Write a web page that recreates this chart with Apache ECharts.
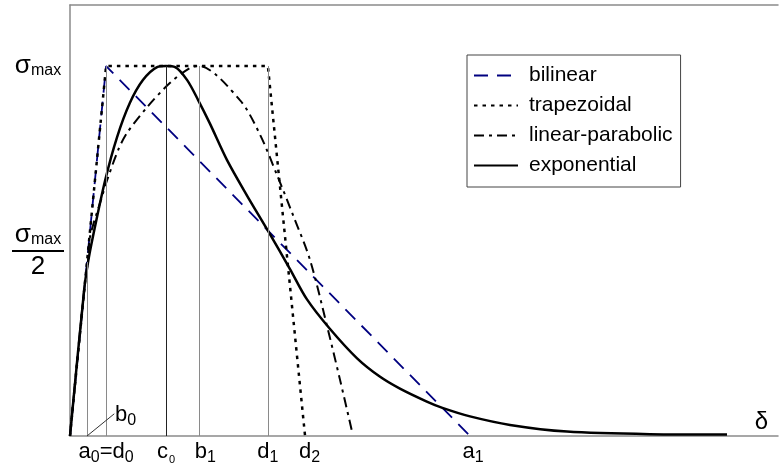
<!DOCTYPE html>
<html><head><meta charset="utf-8">
<script src="https://cdn.jsdelivr.net/npm/echarts@6/dist/echarts.min.js"></script>
<style>html,body{margin:0;padding:0;background:#fff}#c{width:779px;height:473px}</style>
</head><body><div id="c"></div>
<script>
// ---- data (δ in units where a0=d0≈1, σ in units of σmax) ----
const seriesNames = ['bilinear', 'trapezoidal', 'linear-parabolic', 'exponential'];
const bilinear = [[0, 0], [1.02, 1], [11.3, 0]];
const trapezoidal = [[0, 0], [1.02, 1], [5.59, 1], [6.64, 0]];
const linearParabolic = [
  [0, 0], [0.40, 0.395], [0.51, 0.476], [0.565, 0.538], [0.90, 0.646], [1.05, 0.692],
  [1.36, 0.773], [1.61, 0.819], [2.18, 0.889], [2.82, 0.954], [3.39, 0.995], [3.64, 1.0],
  [4.80, 0.908], [5.37, 0.814], [5.85, 0.705], [6.30, 0.597], [6.78, 0.476],
  [7.29, 0.286], [7.63, 0.151], [7.97, 0.011]
];
const exponential = [
  [0, 0], [0.40, 0.395], [0.51, 0.47], [0.65, 0.54], [0.99, 0.69], [1.33, 0.808],
  [1.69, 0.90], [2.06, 0.962], [2.46, 0.997], [2.71, 1.0], [2.97, 0.997], [3.31, 0.962],
  [3.62, 0.908], [3.95, 0.845], [4.44, 0.745], [5.0, 0.65], [5.59, 0.555], [6.21, 0.452],
  [6.69, 0.37], [7.34, 0.29], [8.11, 0.21], [8.76, 0.16], [9.32, 0.128], [10.08, 0.093],
  [10.52, 0.076], [11.3, 0.053], [12.43, 0.030], [14.04, 0.012], [16.38, 0.005], [18.56, 0.004]
];
const markerX = [0.48, 1.02, 2.71, 3.64, 5.59];      // b0, a0=d0, c0, b1, d1
const markerTop = [0.47, 1, 1, 1, 1];
const markerDark = [false, false, true, false, false];
const xTickValues = [1.02, 2.71, 3.64, 5.59, 6.64, 11.3];
const xTickLabels = ['{m|a}{s|0}{m|=d}{s|0}', '{m|c}{t|0}', '{m6|b}{s|1}', '{m|d}{s|1}', '{m4|d}{s|2}', '{m3|a}{s|1}'];
const yTickValues = [0.5, 1];
const yTickLabels = ['{g|σ}{sm|max}\n{bar| }\n{two|2}', '{g|σ}{sm|max}'];
const leaderB0 = [[0.48, 0], [1.25, 0.06]];
const leaderA0 = [[1.02, 0], [0.79, -0.038]];
const b0Label = { coord: [1.27, 0.054], text: '{m|b}{s|0}' };
const xAxisName = 'δ';

const FONT = "'Liberation Sans', Arial, sans-serif";
const AXIS_COLOR = '#8a8a8a';

const chart = echarts.init(document.getElementById('c'), null, { renderer: 'canvas' });

const markerLines = markerX.map((x, i) => [
  { coord: [x, 0], lineStyle: { color: markerDark[i] ? '#222' : '#8a8a8a', width: 1, type: 'solid' } },
  { coord: [x, markerTop[i]] }
]);
markerLines.push([{ coord: leaderB0[0], lineStyle: { color: '#333', width: 1, type: 'solid' } }, { coord: leaderB0[1] }]);
markerLines.push([{ coord: leaderA0[0], lineStyle: { color: '#333', width: 1, type: 'solid' } }, { coord: leaderA0[1] }]);

const mBase = { fontSize: 22, fontFamily: FONT, color: '#000', verticalAlign: 'bottom', lineHeight: 26 };
const richX = {
  m: Object.assign({}, mBase, { padding: [0, 0, 3, 0] }),
  m6: Object.assign({}, mBase, { padding: [0, 0, 3, 13] }),
  m4: Object.assign({}, mBase, { padding: [0, 0, 3, 9] }),
  m3: Object.assign({}, mBase, { padding: [0, 0, 3, 6] }),
  s: { fontSize: 16, fontFamily: FONT, color: '#000', verticalAlign: 'bottom', lineHeight: 20 },
  t: { fontSize: 11, fontFamily: FONT, color: '#000', verticalAlign: 'bottom', lineHeight: 14, padding: [0, 0, 1, 1] }
};

const option = {
  animation: false,
  backgroundColor: '#fff',
  grid: { left: 70, right: 1, top: 5, bottom: 37 },
  legend: {
    data: seriesNames,
    orient: 'vertical',
    left: 467, top: 55,
    padding: [10, 8, 11, 6],
    itemWidth: 44, itemHeight: 14, itemGap: 9,
    borderColor: '#444', borderWidth: 1,
    itemStyle: { opacity: 0, color: 'transparent', borderWidth: 0 },
    textStyle: { fontSize: 21, fontFamily: FONT, color: '#000', padding: [0, 0, 0, 6] },
    selectedMode: false
  },
  xAxis: [{
    type: 'value', min: 0, max: 20,
    axisLine: { show: true, lineStyle: { color: AXIS_COLOR, width: 1.5 } },
    axisTick: { show: false },
    splitLine: { show: false },
    axisLabel: {
      show: true, customValues: xTickValues, margin: 4,
      formatter: (v) => { const i = xTickValues.indexOf(v); return i >= 0 ? xTickLabels[i] : ''; },
      rich: richX
    },
    name: xAxisName, nameLocation: 'end', nameGap: -10,
    nameTextStyle: { fontSize: 24, fontFamily: FONT, color: '#000', align: 'right', verticalAlign: 'bottom', padding: [0, 0, 2, 0] }
  }, {
    type: 'value', min: 0, max: 20, position: 'top',
    axisLine: { show: true, onZero: false, lineStyle: { color: AXIS_COLOR, width: 1.5 } },
    axisTick: { show: false }, axisLabel: { show: false }, splitLine: { show: false }
  }],
  yAxis: {
    type: 'value', min: 0, max: 1.165,
    axisLine: { show: true, lineStyle: { color: AXIS_COLOR, width: 1.5 } },
    axisTick: { show: false },
    splitLine: { show: false },
    axisLabel: {
      show: true, customValues: yTickValues, margin: 32, align: 'center',
      formatter: (v) => { const i = yTickValues.indexOf(v); return i >= 0 ? yTickLabels[i] : ''; },
      rich: {
        g: { fontSize: 26, fontFamily: FONT, color: '#000', verticalAlign: 'bottom', lineHeight: 26 },
        sm: { fontSize: 16, fontFamily: FONT, color: '#000', verticalAlign: 'bottom', lineHeight: 22 },
        bar: { width: 52, height: 2, backgroundColor: '#000', lineHeight: 6, fontSize: 2 },
        two: { fontSize: 26, fontFamily: FONT, color: '#000', lineHeight: 26 }
      }
    }
  },
  series: [
    {
      name: 'bilinear', type: 'line', data: bilinear, symbol: 'none', showSymbol: false,
      lineStyle: { color: '#000080', width: 1.8, type: [14, 9] }, itemStyle: { color: '#000080' }, z: 3
    },
    {
      name: 'trapezoidal', type: 'line', data: trapezoidal, symbol: 'none', showSymbol: false,
      lineStyle: { color: '#000', width: 2.5, type: [3.5, 5] }, itemStyle: { color: '#000' }, z: 3
    },
    {
      name: 'linear-parabolic', type: 'line', data: linearParabolic, symbol: 'none', showSymbol: false,
      smooth: 0.3,
      lineStyle: { color: '#000', width: 2, type: [10, 5, 3, 5] }, itemStyle: { color: '#000' }, z: 3
    },
    {
      name: 'exponential', type: 'line', data: exponential, symbol: 'none', showSymbol: false,
      smooth: 0.3,
      lineStyle: { color: '#000', width: 2.5, type: 'solid' }, itemStyle: { color: '#000' }, z: 4
    },
    {
      type: 'line', data: [], symbol: 'none', clip: false, silent: true, z: 2,
      markLine: {
        silent: true, symbol: ['none', 'none'], label: { show: false }, animation: false,
        data: markerLines
      },
      markPoint: {
        silent: true, symbol: 'circle', symbolSize: 0, animation: false,
        data: [{ coord: b0Label.coord, value: 0, label: { show: true, position: 'right', distance: 0, formatter: b0Label.text, rich: richX } }]
      }
    }
  ]
};
chart.setOption(option);
</script>
</body></html>
